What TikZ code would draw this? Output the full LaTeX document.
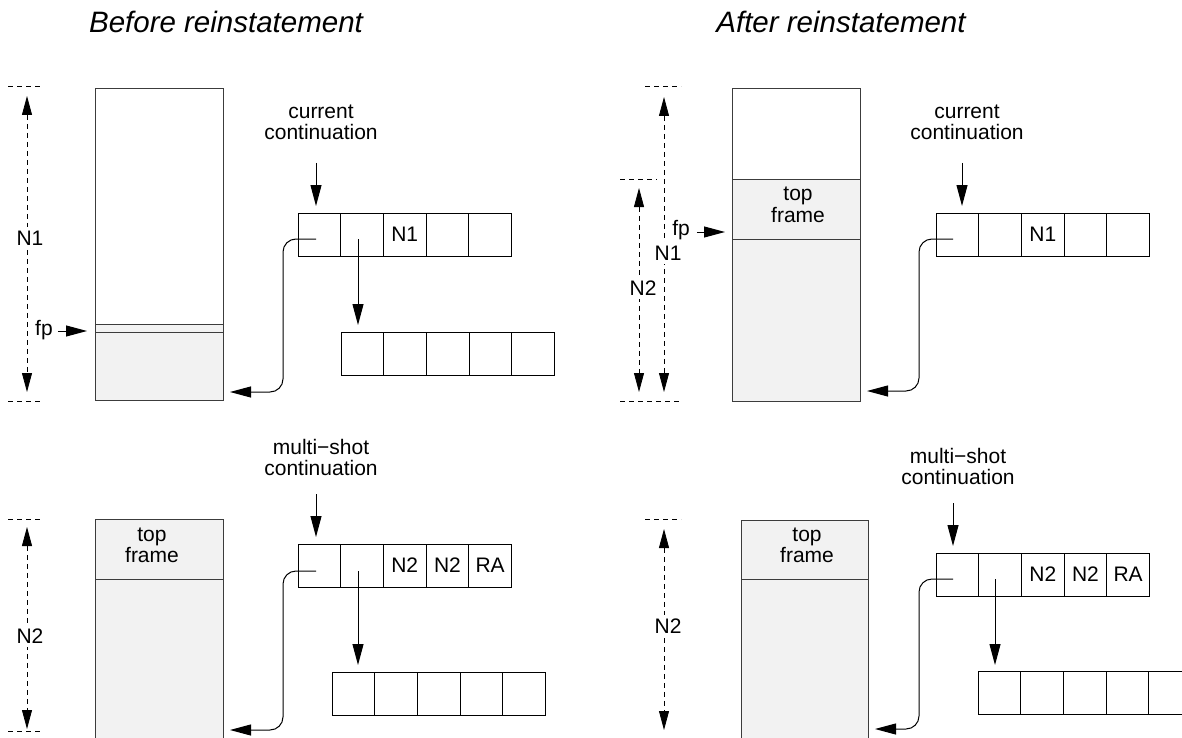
\documentclass[tikz,border=0pt]{standalone}
\usepackage{fontspec}
\setmainfont{Liberation Sans}
\usetikzlibrary{arrows.meta}
\definecolor{stackfill}{RGB}{242,242,242}
\definecolor{stackline}{RGB}{60,60,60}

\tikzset{
  cell/.style={draw, line width=1pt, minimum width=42.7pt, minimum height=43pt,
               inner sep=0pt, font=\fontsize{21}{25}\selectfont},
  lbl/.style={font=\fontsize{21}{21}\selectfont, align=center, inner sep=0pt},
  title/.style={font=\fontsize{29.5}{34}\selectfont\itshape, anchor=base, inner sep=0pt},
  ptr/.style={line width=1pt, -{Triangle[length=21pt,width=11pt]}},
  curved/.style={ptr, rounded corners=13pt},
  dim/.style={line width=0.8pt, dash pattern=on 5pt off 4pt,
              {Triangle[length=19pt,width=10pt]}-{Triangle[length=19pt,width=10pt]}},
  tick/.style={line width=0.8pt, dash pattern=on 5pt off 4pt},
  stack/.style={draw=stackline, line width=1pt},
  dimlbl/.style={font=\fontsize{21}{21}\selectfont, fill=white, inner sep=4pt},
}

\begin{document}
\begin{tikzpicture}[x=1pt,y=-1pt]
\clip (0,0) rectangle (1182,738);

% headings
\node[title] (headL) at (226,33) {Before reinstatement};
\node[title] (headR) at (841,33) {After reinstatement};

% ================= before: current continuation =================
\draw[tick] (8,86) -- (43,86);
\draw[tick] (8,401) -- (43,401);
\fill[stackfill] (95,324) rectangle (223,400);
\draw[stack] (95,89) rectangle (223,400);
\draw[stack] (95,324) -- (223,324) (95,332) -- (223,332);
\coordinate (dAtop) at (27,96);
\coordinate (dAbot) at (27,392);
\draw[dim] (dAtop) -- (dAbot);
\node[dimlbl] (dAlbl) at (30,238) {N1};
\node[lbl] (fpA) at (44,330) {fp};
\coordinate (fpAtip) at (87,331);
\draw[ptr] ([xshift=5pt]fpA.east |- fpAtip) -- (fpAtip);

\foreach \i/\t in {1/{},2/{},3/N1,4/{},5/{}}
  \node[cell] (a\i) at ({298+42.7*\i-21.35},234.5) {\t};
\foreach \i in {1,...,5}
  \node[cell] (b\i) at ({341+42.7*\i-21.35},353.5) {};

\node[lbl, anchor=base] (ccA) at (321,140) {current\\continuation};
\coordinate (ccAfrom) at (316,163);
\coordinate (ccAto) at (316,206);
\draw[ptr] (ccAfrom) -- (ccAto);

\coordinate (a1p) at (316,239);
\coordinate (a1v) at (283,392);
\coordinate (a1to) at (230,392);
\draw[curved] (a1p) -| (a1v) -- (a1to);
\coordinate (a2p) at (358,239);
\coordinate (a2to) at (358,325);
\draw[ptr] (a2p) -- (a2to);

% ================= before: multi-shot continuation =================
\draw[tick] (8,519) -- (43,519);
\draw[tick] (8,731) -- (43,731);
\fill[stackfill] (95,519) rectangle (223,760);
\draw[stack] (95,519) rectangle (223,760);
\draw[stack] (95,579) -- (223,579);
\node[lbl, anchor=base] (tfB) at (152,562) {top\\frame};
\coordinate (dBtop) at (27,527);
\coordinate (dBbot) at (27,729);
\draw[dim] (dBtop) -- (dBbot);
\node[dimlbl] (dBlbl) at (30,636) {N2};

\foreach \i/\t in {1/{},2/{},3/N2,4/N2,5/RA}
  \node[cell] (d\i) at ({298+42.7*\i-21.35},565.5) {\t};
\foreach \i in {1,...,5}
  \node[cell] (e\i) at ({332+42.7*\i-21.35},693.5) {};

\node[lbl, anchor=base] (msB) at (321,475) {multi−shot\\continuation};
\coordinate (msBfrom) at (316,494);
\coordinate (msBto) at (316,537);
\draw[ptr] (msBfrom) -- (msBto);

\coordinate (d1p) at (316,571);
\coordinate (d1v) at (283,730);
\coordinate (d1to) at (230,730);
\draw[curved] (d1p) -| (d1v) -- (d1to);
\coordinate (d2p) at (358,571);
\coordinate (d2to) at (358,665);
\draw[ptr] (d2p) -- (d2to);

% ================= after: current continuation =================
\draw[tick] (645,86) -- (681,86);
\draw[tick] (620,179) -- (657,179);
\draw[tick] (620,401) -- (681,401);
\fill[stackfill] (732,180) rectangle (860,401);
\draw[stack] (732,89) rectangle (860,401);
\draw[stack] (732,180) -- (860,180) (732,239) -- (860,239);
\node[lbl, anchor=base] (tfC) at (798,222) {top\\frame};
\coordinate (dC1top) at (664,97);
\coordinate (dC1bot) at (664,392);
\draw[dim] (dC1top) -- (dC1bot);
\coordinate (dC2top) at (639,188);
\coordinate (dC2bot) at (639,392);
\draw[dim] (dC2top) -- (dC2bot);
\node[dimlbl] (dC1lbl) at (668,253) {N1};
\node[dimlbl] (dC2lbl) at (643,288) {N2};
\node[lbl] (fpC) at (681,230) {fp};
\coordinate (fpCtip) at (725,232);
\draw[ptr] ([xshift=7pt]fpC.east |- fpCtip) -- (fpCtip);

\foreach \i/\t in {1/{},2/{},3/N1,4/{},5/{}}
  \node[cell] (c\i) at ({936+42.7*\i-21.35},234.5) {\t};

\node[lbl, anchor=base] (ccC) at (967,140) {current\\continuation};
\coordinate (ccCfrom) at (962,163);
\coordinate (ccCto) at (962,206);
\draw[ptr] (ccCfrom) -- (ccCto);

\coordinate (c1p) at (953,239);
\coordinate (c1v) at (919,391);
\coordinate (c1to) at (867,391);
\draw[curved] (c1p) -| (c1v) -- (c1to);

% ================= after: multi-shot continuation =================
\draw[tick] (645,519) -- (681,519);
\fill[stackfill] (741,520) rectangle (868,760);
\draw[stack] (741,520) rectangle (868,760);
\draw[stack] (741,579) -- (868,579);
\node[lbl, anchor=base] (tfD) at (807,562) {top\\frame};
\coordinate (dDtop) at (664,529);
\coordinate (dDbot) at (664,730);
\draw[dim] (dDtop) -- (dDbot);
\node[dimlbl] (dDlbl) at (668,626) {N2};

\foreach \i/\t in {1/{},2/{},3/N2,4/N2,5/RA}
  \node[cell] (f\i) at ({936+42.7*\i-21.35},574.5) {\t};
\foreach \i in {1,...,5}
  \node[cell] (g\i) at ({978+42.7*\i-21.35},693) {};

\node[lbl, anchor=base] (msD) at (958,484) {multi−shot\\continuation};
\coordinate (msDfrom) at (953,503);
\coordinate (msDto) at (953,546);
\draw[ptr] (msDfrom) -- (msDto);

\coordinate (f1p) at (953,579);
\coordinate (f1v) at (919,729);
\coordinate (f1to) at (875,729);
\draw[curved] (f1p) -| (f1v) -- (f1to);
\coordinate (f2p) at (995,579);
\coordinate (f2to) at (995,665);
\draw[ptr] (f2p) -- (f2to);
\end{tikzpicture}
\end{document}
